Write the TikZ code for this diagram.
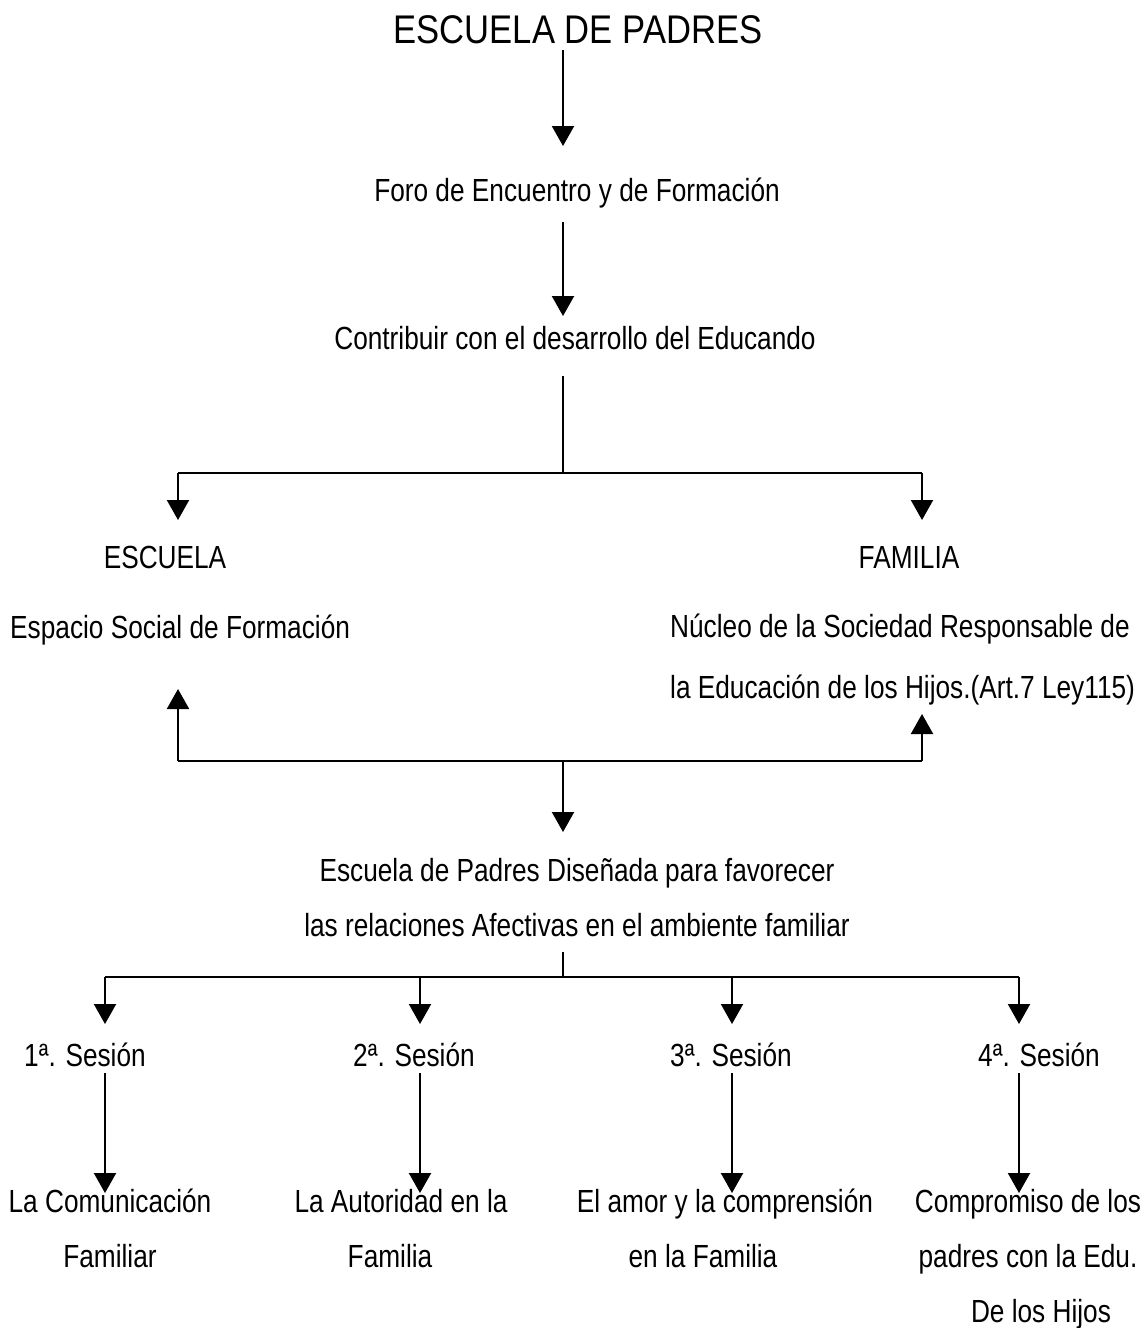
\documentclass[tikz,border=0pt]{standalone}
\usepackage{fontspec}
\setmainfont{Liberation Sans}[FakeStretch=0.82]
\newfontfamily\titlefont{Liberation Sans}[FakeStretch=0.865]
\usetikzlibrary{arrows.meta}
\begin{document}
\begin{tikzpicture}[x=1pt,y=-1pt,
  txt/.style={inner sep=0pt,anchor=base,font=\fontsize{32}{38}\selectfont},
  txtl/.style={txt,anchor=base west},
  ttl/.style={inner sep=0pt,anchor=base,font=\titlefont\fontsize{40}{48}\selectfont},
  conn/.style={line width=2.2pt},
  arr/.style={conn,-{Triangle[width=22pt,length=20pt]}}]
\useasboundingbox (0,0) rectangle (1146,1328);
% texts
\node[ttl] (title) at (578,43) {ESCUELA DE PADRES};
\node[txt] (foro) at (577,201) {Foro de Encuentro y de Formación};
\node[txt] (contrib) at (575,349) {Contribuir con el desarrollo del Educando};
\node[txt] (escuela) at (165,568) {ESCUELA};
\node[txt] (familia) at (909,568) {FAMILIA};
\node[txtl] (espacio) at (10,638) {Espacio Social de Formación};
\node[txtl] (nucleoA) at (670,637) {Núcleo de la Sociedad Responsable de};
\node[txtl] (nucleoB) at (670,698) {la Educación de los Hijos.(Art.7 Ley115)};
\node[txt] (disA) at (577,881) {Escuela de Padres Diseñada para favorecer};
\node[txt] (disB) at (577,936) {las relaciones Afectivas en el ambiente familiar};
\node[txt] (s1) at (85,1066) {1ª. Sesión};
\node[txt] (s2) at (414,1066) {2ª. Sesión};
\node[txt] (s3) at (731,1066) {3ª. Sesión};
\node[txt] (s4) at (1039,1066) {4ª. Sesión};
\node[txt] (t1a) at (110,1212) {La Comunicación};
\node[txt] (t1b) at (110,1267) {Familiar};
\node[txt] (t2a) at (401,1212) {La Autoridad en la};
\node[txt] (t2b) at (390,1267) {Familia};
\node[txt] (t3a) at (725,1212) {El amor y la comprensión};
\node[txt] (t3b) at (703,1267) {en la Familia};
\node[txt] (t4a) at (1028,1212) {Compromiso de los};
\node[txt] (t4b) at (1028,1267) {padres con la Edu.};
\node[txt] (t4c) at (1041,1322) {De los Hijos};
% junction coordinates
\coordinate (a1s) at (563,50);   \coordinate (a1e) at (563,146);
\coordinate (a2s) at (563,222);  \coordinate (a2e) at (563,316);
\coordinate (b0) at (563,376);   \coordinate (bm) at (563,473);
\coordinate (bl) at (178,473);   \coordinate (br) at (922,473);
\coordinate (ble) at (178,520);  \coordinate (bre) at (922,520);
\coordinate (cl) at (178,761);   \coordinate (cr) at (922,761);
\coordinate (cm) at (563,761);
\coordinate (cle) at (178,689);  \coordinate (cre) at (922,714);
\coordinate (cme) at (563,832);
\coordinate (d0) at (563,952);   \coordinate (dm) at (563,977);
\coordinate (d1) at (105,977);   \coordinate (d2) at (420,977);
\coordinate (d3) at (732,977);   \coordinate (d4) at (1019,977);
\coordinate (d1e) at (105,1024); \coordinate (d2e) at (420,1024);
\coordinate (d3e) at (732,1024); \coordinate (d4e) at (1019,1024);
\coordinate (e1s) at (105,1073); \coordinate (e1e) at (105,1193);
\coordinate (e2s) at (420,1073); \coordinate (e2e) at (420,1193);
\coordinate (e3s) at (732,1073); \coordinate (e3e) at (732,1193);
\coordinate (e4s) at (1019,1073);\coordinate (e4e) at (1019,1193);
% connectors
\draw[arr] (a1s) -- (a1e);
\draw[arr] (a2s) -- (a2e);
\draw[conn] (b0) -- (bm);
\draw[conn] (bl) -- (br);
\draw[arr] (bl) -- (ble);
\draw[arr] (br) -- (bre);
\draw[conn] (cl) -- (cr);
\draw[arr] (cl) -- (cle);
\draw[arr] (cr) -- (cre);
\draw[arr] (cm) -- (cme);
\draw[conn] (d0) -- (dm);
\draw[conn] (d1) -- (d4);
\draw[arr] (d1) -- (d1e);
\draw[arr] (d2) -- (d2e);
\draw[arr] (d3) -- (d3e);
\draw[arr] (d4) -- (d4e);
\draw[arr] (e1s) -- (e1e);
\draw[arr] (e2s) -- (e2e);
\draw[arr] (e3s) -- (e3e);
\draw[arr] (e4s) -- (e4e);
\end{tikzpicture}
\end{document}
